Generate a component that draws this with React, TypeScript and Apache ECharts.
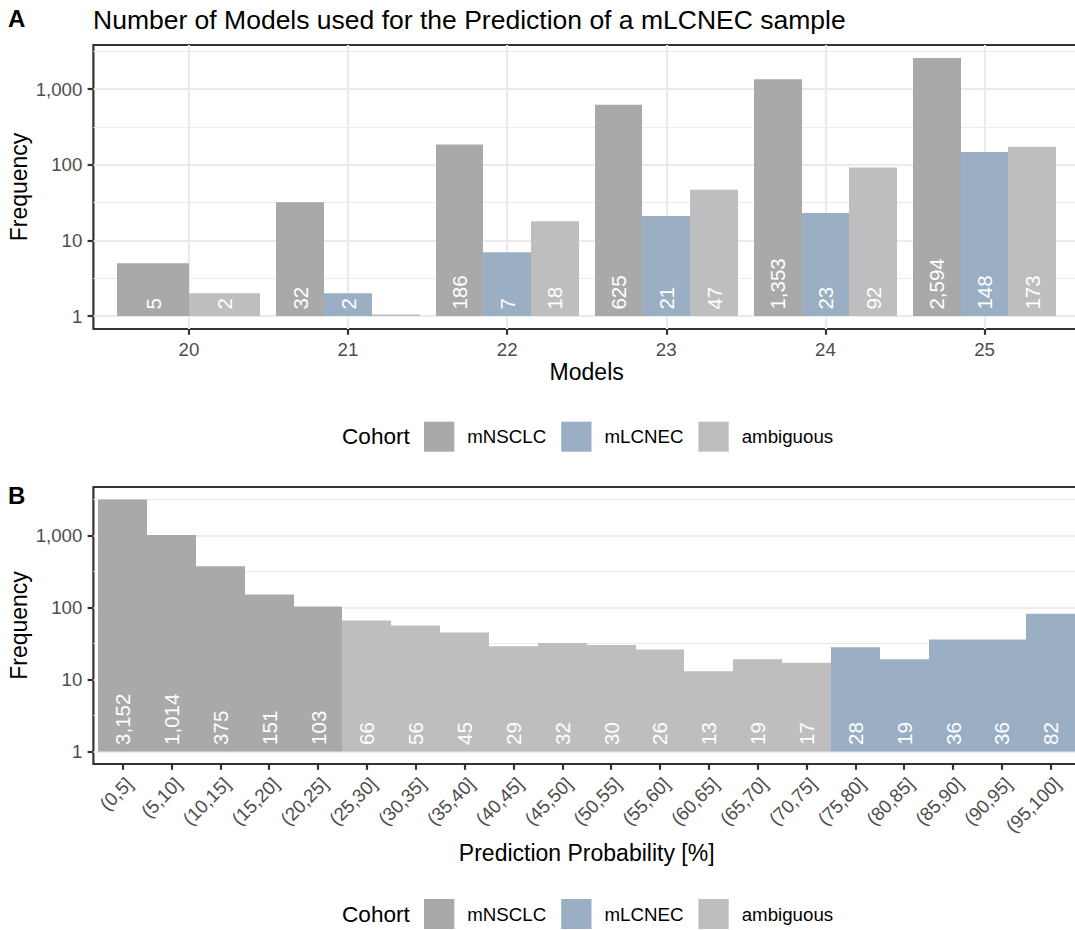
import React, { useEffect, useRef } from 'react';
import * as echarts from 'echarts';

const FONT = "'Liberation Sans', Arial, Helvetica, sans-serif";

// ---- data ----
const cohorts = ['mNSCLC', 'mLCNEC', 'ambiguous'];
const cohortColors = ['#a9a9a9', '#9aaec4', '#bebebe'];

const models = [20, 21, 22, 23, 24, 25];
const modelsNSCLC = [5, 32, 186, 625, 1353, 2594];
const modelsLCNEC: (number | null)[] = [null, 2, 7, 21, 23, 148];
const modelsAmbiguous = [2, 1, 18, 47, 92, 173];

const probBins = [
  '(0,5]', '(5,10]', '(10,15]', '(15,20]', '(20,25]',
  '(25,30]', '(30,35]', '(35,40]', '(40,45]', '(45,50]',
  '(50,55]', '(55,60]', '(60,65]', '(65,70]', '(70,75]',
  '(75,80]', '(80,85]', '(85,90]', '(90,95]', '(95,100]',
];
const probCounts = [3152, 1014, 375, 151, 103, 66, 56, 45, 29, 32, 30, 26, 13, 19, 17, 28, 19, 36, 36, 82];
const probCohort = [
  'mNSCLC', 'mNSCLC', 'mNSCLC', 'mNSCLC', 'mNSCLC',
  'ambiguous', 'ambiguous', 'ambiguous', 'ambiguous', 'ambiguous',
  'ambiguous', 'ambiguous', 'ambiguous', 'ambiguous', 'ambiguous',
  'mLCNEC', 'mLCNEC', 'mLCNEC', 'mLCNEC', 'mLCNEC',
];

const yMajor = [1, 10, 100, 1000];
const yMinor = [3.1623, 31.623, 316.23, 3162.3];

// ---- derived ----
const modelSeries = [modelsNSCLC, modelsLCNEC, modelsAmbiguous];
const dataA = cohorts.map((_, ci) => {
  const out: number[][] = [];
  models.forEach((m, mi) => {
    const present = modelSeries
      .map((s, i) => (s[mi] == null ? -1 : i))
      .filter((i) => i >= 0);
    const v = modelSeries[ci][mi];
    if (v == null) return;
    out.push([m, v as number, present.indexOf(ci), present.length]);
  });
  return out;
});
const dataB = cohorts.map((c) =>
  probCounts
    .map((v, i) => (probCohort[i] === c ? [i, v, 0, 1] : null))
    .filter((d) => d !== null) as number[][]
);

const logLimits = (maxVal: number) => {
  const top = Math.log10(maxVal);
  return [Math.pow(10, -0.05 * top), Math.pow(10, 1.05 * top)];
};
const limA = logLimits(Math.max(...modelsNSCLC, ...modelsAmbiguous, ...(modelsLCNEC.filter((v) => v != null) as number[])));
const limB = logLimits(Math.max(...probCounts));

const fmt = (v: number) => Math.round(v).toLocaleString('en-US');

const makeRender = (groupWidth: number, labelOffset: number) => (params: any, api: any) => {
  const xc = api.value(0);
  const v = api.value(1);
  const slot = api.value(2);
  const n = api.value(3);
  const w = groupWidth / n;
  const left = xc - groupWidth / 2 + slot * w;
  const pBase = api.coord([left, 1]);
  const pTop = api.coord([left + w, v]);
  const x = Math.round(pBase[0]);
  const x2 = Math.round(pTop[0]);
  let y = pTop[1];
  let h = pBase[1] - pTop[1];
  if (h < 1.5) {
    y = pBase[1] - 1.5;
    h = 1.5;
  }
  const children: any[] = [
    {
      type: 'rect',
      shape: { x, y, width: x2 - x, height: h },
      style: { fill: api.visual('color') },
    },
  ];
  if (v > 1) {
    children.push({
      type: 'text',
      x: (pBase[0] + pTop[0]) / 2,
      y: pBase[1] - labelOffset,
      rotation: Math.PI / 2,
      silent: true,
      style: {
        text: fmt(v),
        fill: '#ffffff',
        fontSize: 20.5,
        fontFamily: FONT,
        align: 'left',
        textAlign: 'left',
        verticalAlign: 'middle',
        textVerticalAlign: 'middle',
      },
    });
  }
  return { type: 'group', children };
};

const axisLabelStyle = { color: '#4d4d4d', fontSize: 18.7, fontFamily: FONT };
const tickStyle = { length: 5.8, lineStyle: { color: '#333333', width: 2.2 } };
const gridLineColor = '#ebebeb';

const yAxesFor = (gridIndex: number, lim: number[]) => [
  {
    gridIndex,
    type: 'log',
    logBase: 10,
    min: lim[0],
    max: lim[1],
    position: 'left',
    axisLine: { show: false, onZero: false },
    axisTick: { show: true, customValues: yMajor, ...tickStyle },
    axisLabel: {
      customValues: yMajor,
      formatter: (v: number) => fmt(v),
      margin: 11,
      hideOverlap: false,
      ...axisLabelStyle,
    },
    splitLine: { show: true, lineStyle: { color: gridLineColor, width: 2.2 } },
    minorTick: { show: false },
    minorSplitLine: { show: false },
  },
  {
    gridIndex,
    type: 'log',
    logBase: 10,
    min: lim[0],
    max: lim[1],
    position: 'left',
    axisLine: { show: false, onZero: false },
    axisTick: { show: false, customValues: yMinor },
    axisLabel: { show: false, customValues: yMinor },
    splitLine: { show: true, lineStyle: { color: gridLineColor, width: 1.1 } },
  },
];

const text = (
  t: string,
  x: number,
  y: number,
  size: number,
  opts: { align?: string; rotation?: number; bold?: boolean; color?: string } = {}
) => ({
  type: 'text',
  x,
  y,
  rotation: opts.rotation || 0,
  silent: true,
  style: {
    text: t,
    fill: opts.color || '#000000',
    fontSize: size,
    fontFamily: FONT,
    fontWeight: opts.bold ? 'bold' : 'normal',
    align: opts.align || 'center',
    textAlign: opts.align || 'center',
    verticalAlign: 'middle',
    textVerticalAlign: 'middle',
  },
});

const legendFor = (top: number) => ({
  show: true,
  left: 424,
  top,
  padding: 0,
  orient: 'horizontal',
  icon: 'rect',
  itemWidth: 30.3,
  itemHeight: 30,
  itemGap: 15,
  selectedMode: false,
  data: cohorts,
  formatter: '{n|{name}}',
  itemStyle: { borderWidth: 0 },
  textStyle: {
    color: '#000000',
    fontSize: 18.7,
    fontFamily: FONT,
    rich: { n: { padding: [0, 0, 0, 8], fontSize: 18.7, fontFamily: FONT, color: '#000000' } },
  },
});

export default function App() {
  const ref = useRef<HTMLDivElement>(null);

  useEffect(() => {
    if (!ref.current) return;
    const chart = echarts.init(ref.current, null, { renderer: 'svg' });

    const gridCommon = {
      show: true,
      borderColor: '#333333',
      borderWidth: 2.2,
      backgroundColor: 'transparent',
      containLabel: false,
      outerBoundsMode: 'none',
    };

    const option: any = {
      animation: false,
      backgroundColor: '#ffffff',
      textStyle: { fontFamily: FONT },
      grid: [
        { ...gridCommon, left: 93.4, top: 45, width: 986.6, height: 284 },
        { ...gridCommon, left: 93.4, top: 487, width: 986.6, height: 277 },
      ],
      xAxis: [
        {
          gridIndex: 0,
          type: 'value',
          min: 19.4,
          max: 25.6,
          axisLine: { show: false, onZero: false },
          axisTick: { show: true, customValues: models, ...tickStyle },
          axisLabel: { customValues: models, margin: 11, hideOverlap: false, ...axisLabelStyle },
          splitLine: { show: true, lineStyle: { color: gridLineColor, width: 2.2 } },
        },
        {
          gridIndex: 1,
          type: 'value',
          min: -0.6,
          max: 19.6,
          axisLine: { show: false, onZero: false },
          axisTick: { show: true, customValues: probBins.map((_, i) => i), ...tickStyle },
          axisLabel: {
            customValues: probBins.map((_, i) => i),
            formatter: (v: number) => probBins[Math.round(v)] ?? '',
            rotate: 45,
            align: 'right',
            verticalAlign: 'top',
            margin: 10,
            hideOverlap: false,
            ...axisLabelStyle,
          },
          splitLine: { show: false },
        },
      ],
      yAxis: [...yAxesFor(0, limA), ...yAxesFor(1, limB)],
      legend: [legendFor(421.7), legendFor(899)],
      series: [
        ...cohorts.map((c, ci) => ({
          type: 'custom',
          name: c,
          xAxisIndex: 0,
          yAxisIndex: 0,
          itemStyle: { color: cohortColors[ci] },
          encode: { x: 0, y: 1 },
          data: dataA[ci],
          renderItem: makeRender(0.9, 6.5),
        })),
        ...cohorts.map((c, ci) => ({
          type: 'custom',
          name: c,
          xAxisIndex: 1,
          yAxisIndex: 2,
          itemStyle: { color: cohortColors[ci] },
          encode: { x: 0, y: 1 },
          data: dataB[ci],
          renderItem: makeRender(1, 6.5),
        })),
      ],
      graphic: [
        text('A', 8, 18.1, 24, { align: 'left', bold: true }),
        text('Number of Models used for the Prediction of a mLCNEC sample', 93, 19.5, 26.5, { align: 'left' }),
        text('Frequency', 19, 187, 23, { rotation: Math.PI / 2 }),
        text('Models', 586.7, 371.7, 23),
        text('Cohort', 342, 436.7, 22.6, { align: 'left' }),
        text('B', 8, 495.8, 24, { align: 'left', bold: true }),
        text('Frequency', 19, 625.5, 23, { rotation: Math.PI / 2 }),
        text('Prediction Probability [%]', 586.7, 853, 23),
        text('Cohort', 342, 914, 22.6, { align: 'left' }),
      ],
    };

    chart.setOption(option);
    return () => chart.dispose();
  }, []);

  return (
    <div
      ref={ref}
      style={{ position: 'absolute', left: 0, top: 0, width: 1075, height: 930, background: '#ffffff' }}
    />
  );
}
